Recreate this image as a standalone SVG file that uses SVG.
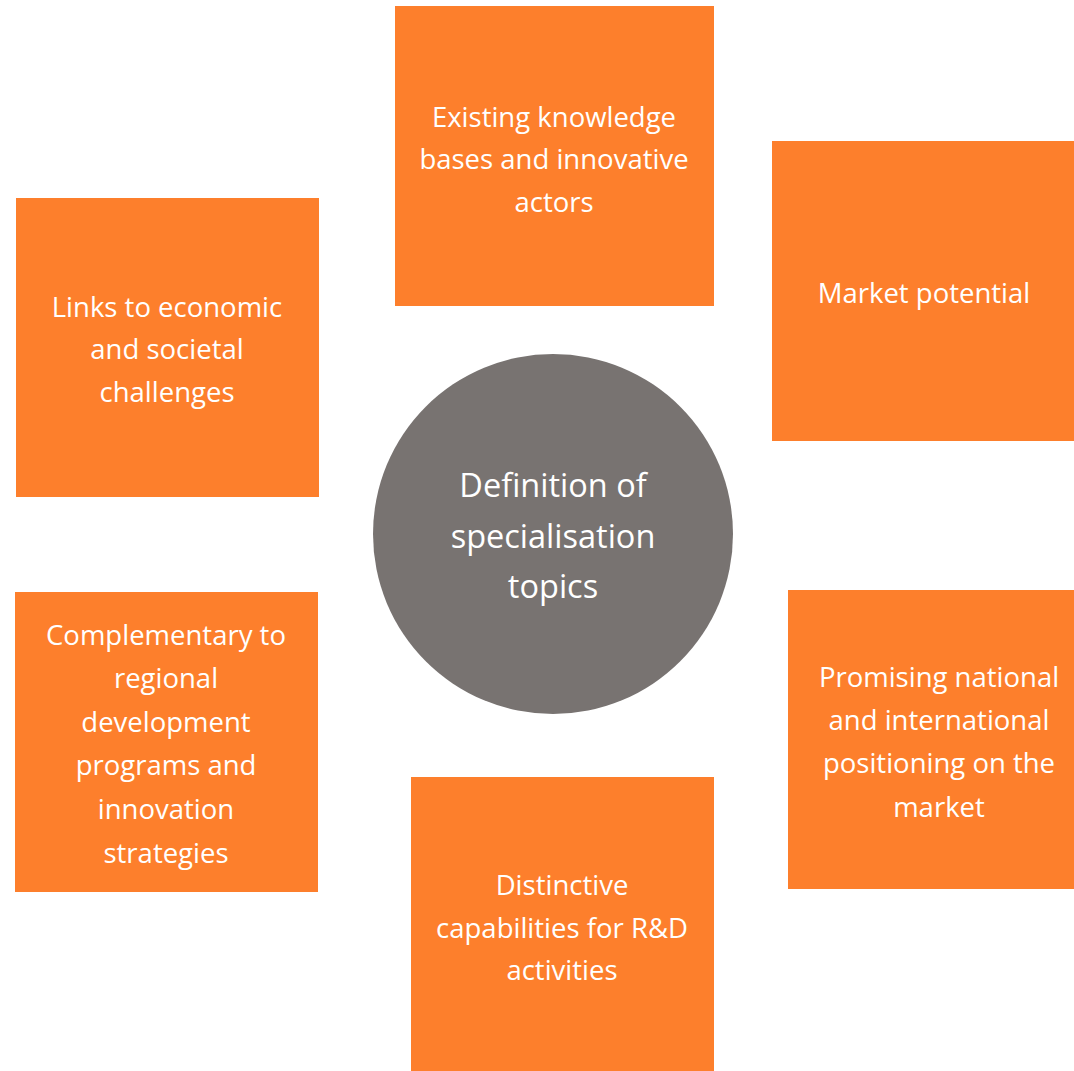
<svg xmlns="http://www.w3.org/2000/svg" width="1074" height="1071" viewBox="0 0 1074 1071">
<style>
.box{fill:#FD7F2C}
.hub{fill:#787371}
text{font-family:"Open Sans","Liberation Sans",sans-serif;fill:#FFFFFF;text-anchor:middle}
.t{font-size:27.5px}
.h{font-size:32.5px}
</style>
<rect width="1074" height="1071" fill="#FFFFFF"/>
<g id="connectors"></g>
<g id="node-hub">
<circle class="hub" cx="553" cy="534" r="180"/>
<text class="h" x="553" y="497">Definition of</text>
<text class="h" x="553" y="548">specialisation</text>
<text class="h" x="553" y="598">topics</text>
</g>
<g id="node-knowledge">
<rect class="box" x="395" y="6" width="319" height="300"/>
<text class="t" x="554" y="127">Existing knowledge</text>
<text class="t" x="554" y="169">bases and innovative</text>
<text class="t" x="554" y="212">actors</text>
</g>
<g id="node-market">
<rect class="box" x="772" y="141" width="302" height="300"/>
<text class="t" x="924" y="303">Market potential</text>
</g>
<g id="node-positioning">
<rect class="box" x="788" y="590" width="286" height="299"/>
<text class="t" x="939" y="687">Promising national</text>
<text class="t" x="939" y="730">and international</text>
<text class="t" x="939" y="773">positioning on the</text>
<text class="t" x="939" y="817">market</text>
</g>
<g id="node-capabilities">
<rect class="box" x="411" y="777" width="303" height="294"/>
<text class="t" x="562" y="895">Distinctive</text>
<text class="t" x="562" y="938">capabilities for R&amp;D</text>
<text class="t" x="562" y="980">activities</text>
</g>
<g id="node-complementary">
<rect class="box" x="15" y="592" width="303" height="300"/>
<text class="t" x="166" y="645">Complementary to</text>
<text class="t" x="166" y="688">regional</text>
<text class="t" x="166" y="732">development</text>
<text class="t" x="166" y="775">programs and</text>
<text class="t" x="166" y="819">innovation</text>
<text class="t" x="166" y="863">strategies</text>
</g>
<g id="node-links">
<rect class="box" x="16" y="198" width="303" height="299"/>
<text class="t" x="167" y="317">Links to economic</text>
<text class="t" x="167" y="359">and societal</text>
<text class="t" x="167" y="402">challenges</text>
</g>
</svg>
